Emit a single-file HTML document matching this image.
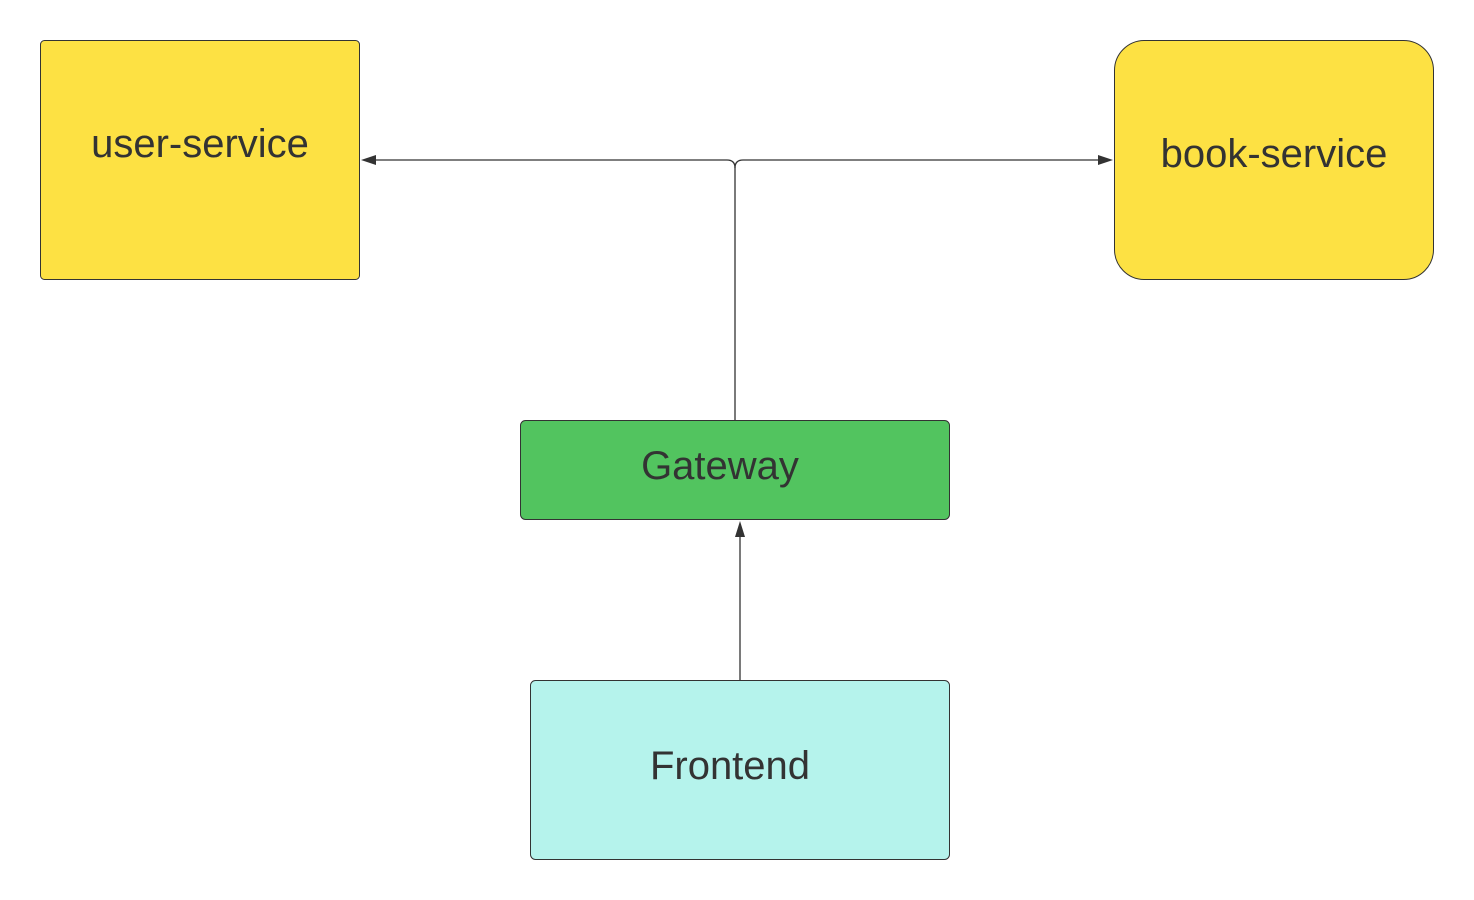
<!DOCTYPE html>
<html><head><meta charset="utf-8"><style>
html,body{margin:0;padding:0;background:#fff;}
svg{display:block;}
text{font-family:"Liberation Sans",sans-serif;fill:#333;}
</style></head><body>
<svg width="1474" height="900" viewBox="0 0 1474 900" xmlns="http://www.w3.org/2000/svg">
<rect x="40.5" y="40.5" width="319" height="239" rx="4" fill="#fde143" stroke="#333" stroke-width="1"/>
<rect x="1114.5" y="40.5" width="319" height="239" rx="30" fill="#fde143" stroke="#333" stroke-width="1"/>
<rect x="520.5" y="420.5" width="429" height="99" rx="5" fill="#52c45f" stroke="#333" stroke-width="1"/>
<rect x="530.5" y="680.5" width="419" height="179" rx="5" fill="#b5f3ec" stroke="#333" stroke-width="1"/>
<text x="200" y="157" font-size="40" text-anchor="middle">user-service</text>
<text x="1274" y="167" font-size="40" text-anchor="middle">book-service</text>
<text x="720" y="479" font-size="40" text-anchor="middle">Gateway</text>
<text x="730" y="779" font-size="40" text-anchor="middle">Frontend</text>
<g fill="none" stroke="#333" stroke-width="1.3">
<path d="M735 420 V168 Q735 160 727 160 H372"/>
<path d="M735 168 Q735 160 743 160 H1102"/>
<path d="M740 680 V534"/>
</g>
<g fill="#333">
<polygon points="361,160 376,155 376,165"/>
<polygon points="1113,160 1098,155 1098,165"/>
<polygon points="740,521 735,537 745,537"/>
</g>
</svg>
</body></html>
